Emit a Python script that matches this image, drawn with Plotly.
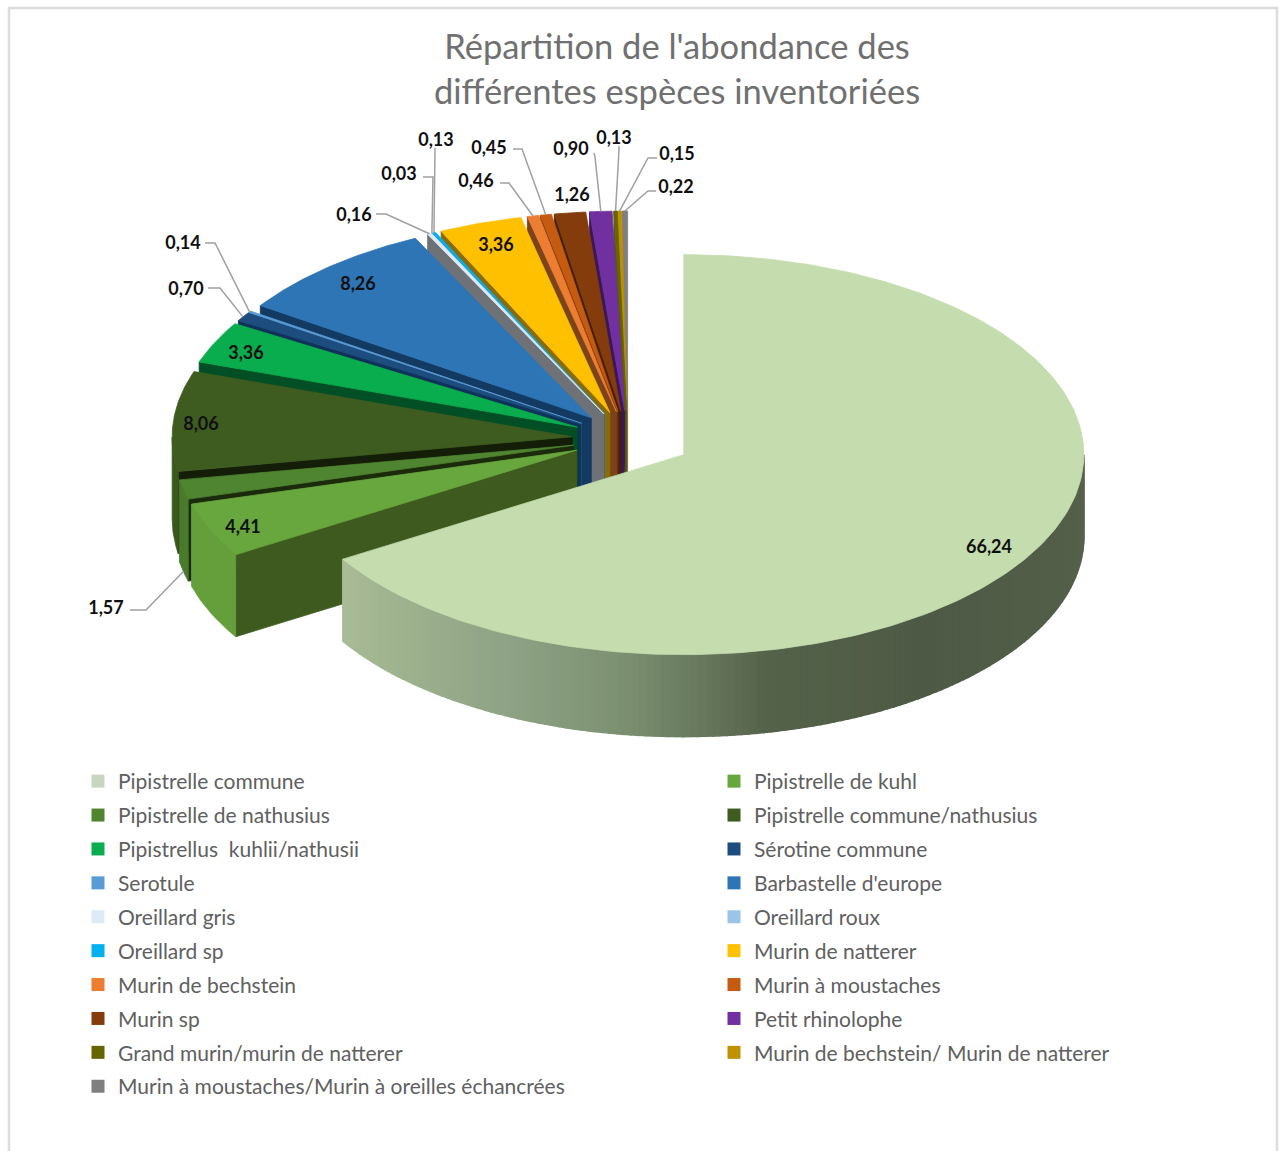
import math
import plotly.graph_objects as go

# ---------- data ----------
SPECIES = ["Pipistrelle commune", "Pipistrelle de kuhl", "Pipistrelle de nathusius",
           "Pipistrelle commune/nathusius", "Pipistrellus  kuhlii/nathusii", "Sérotine commune",
           "Serotule", "Barbastelle d'europe", "Oreillard gris", "Oreillard roux", "Oreillard sp",
           "Murin de natterer", "Murin de bechstein", "Murin à moustaches", "Murin sp",
           "Petit rhinolophe", "Grand murin/murin de natterer", "Murin de bechstein/ Murin de natterer",
           "Murin à moustaches/Murin à oreilles échancrées"]
VALUES = [66.24, 4.41, 1.57, 8.06, 3.36, 0.70, 0.14, 8.26, 0.16, 0.03, 0.13,
          3.36, 0.46, 0.45, 1.26, 0.90, 0.13, 0.15, 0.22]
TITLE = "Répartition de l'abondance des<br>différentes espèces inventoriées"

# ---------- styles ----------
TOP = ["#c4dcae", "#68a63e", "#4f8530", "#3f5c20", "#0aad4e", "#1d4d7f", "#5b9bd5", "#2e75b6",
       "#deebf7", "#9dc3e6", "#00b0f0", "#ffc000", "#ed7d31", "#c55a11", "#843c0c", "#7030a0",
       "#666600", "#bf9000", "#7f7f7f"]
CUT = ["#6c7a60", "#3f5a1e", "#1c2a0c", "#141d08", "#024f25", "#0f3358", "#2a4f72", "#123a63",
       "#6e7276", "#5a7590", "#0a6c90", "#8a6b05", "#7a431a", "#6e340c", "#43200a", "#3a1758",
       "#5a5a05", "#8f6d05", "#6a6a6a"]
RIM = ["#8a9a7a", "#659f3c", "#4a7a2b", "#3a5a1d", "#0a8f42", "#173f69", "#3f78aa", "#245f96",
       "#b5c2cc", "#7a9ab8", "#0a8ec0", "#c09000", "#c26428", "#a04a0e", "#6a300a", "#5a2680",
       "#666600", "#9a7400", "#666666"]
WALL_STOPS = [(90, "#56624c"), (107, "#545f4a"), (144, "#4e5a45"), (168, "#55624a"),
              (188, "#7b8f70"), (206, "#8ea385"), (225, "#9fb28e"), (238.6, "#a9bb97")]
TEXT_GREY = "#606060"

# ---------- layout geometry (pixels of the page) ----------
W, H = 1281, 1151
CX, CY = 628, 437          # pie centre before explosion
RX, RY = 400, 200          # ellipse of the pie
DEPTH = 82
EXPLODE = 0.14
EXPLODE_MAIN = 0.16
LABEL_DY = 2

# centre of label, then optional leader (start, elbow)
LABELS = [
    ((989, 546), None), ((243, 526), None),
    ((106, 607), ((130, 610), (146, 610))),
    ((201, 423), None), ((246, 352), None),
    ((186, 288), ((208, 288), (220, 288))),
    ((183, 242), ((205, 243), (215, 243))),
    ((358, 283), None),
    ((354, 214), ((376, 214), (386, 214))),
    ((399, 173), ((423, 177), (433, 177))),
    ((436, 139), ((435, 148), (435, 150))),
    ((496, 244), None),
    ((476, 180), ((500, 183), (509, 183))),
    ((489, 147), ((513, 149), (522, 149))),
    ((572, 194), None),
    ((571, 148), ((594, 153), (595, 157))),
    ((614, 137), ((619, 146), (619, 150))),
    ((677, 153), ((657, 158), (648, 158))),
    ((676, 186), ((656, 191), (648, 191))),
]


def mix(a, b, t):
    ca = [int(a[i:i + 2], 16) for i in (1, 3, 5)]
    cb = [int(b[i:i + 2], 16) for i in (1, 3, 5)]
    return "#%02x%02x%02x" % tuple(round(p + (q - p) * t) for p, q in zip(ca, cb))


def wall_color(deg):
    for (a0, c0), (a1, c1) in zip(WALL_STOPS, WALL_STOPS[1:]):
        if deg <= a1:
            return mix(c0, c1, (deg - a0) / (a1 - a0))
    return WALL_STOPS[-1][1]


def rim(deg):
    r = math.radians(deg)
    return RX * math.sin(r), -RY * math.cos(r)


total = sum(VALUES)
starts, ends = [], []
acc = 0.0
for v in VALUES:
    starts.append(acc / total * 360)
    acc += v
    ends.append(acc / total * 360)


def apex(i):
    dx, dy = rim((starts[i] + ends[i]) / 2)
    e = EXPLODE_MAIN if i == 0 else EXPLODE
    return CX + e * dx, CY + 2 + e * dy


def arc(i, a0, a1, n):
    ax, ay = apex(i)
    pts = []
    for k in range(n + 1):
        px, py = rim(a0 + (a1 - a0) * k / n)
        pts.append((ax + px, ay + py))
    return pts


fig = go.Figure()


def poly(pts, color, group, name, lw=0.8):
    fig.add_trace(go.Scatter(
        x=[p[0] for p in pts] + [pts[0][0]], y=[p[1] for p in pts] + [pts[0][1]],
        mode="lines", fill="toself", fillcolor=color,
        line=dict(color=color, width=lw), showlegend=False, legendgroup=group,
        name=name, hoverinfo="skip"))


# legend entries, row by row over two columns
for i, name in enumerate(SPECIES):
    fig.add_trace(go.Scatter(
        x=[None], y=[None], mode="markers", name=name, legendgroup=name,
        legend="legend" if i % 2 == 0 else "legend2",
        marker=dict(symbol="square", size=13, color=TOP[i] if i else "#c9d6bf")))

# back slices first, front slices last, the big slice on top
for i in range(len(VALUES) - 1, 0, -1):
    nm = SPECIES[i]
    ax, ay = apex(i)
    a0, a1 = starts[i], ends[i]
    outer = arc(i, a0, a1, max(3, int((a1 - a0) * 2)))
    sx, sy = outer[0]
    poly([(ax, ay), (sx, sy), (sx, sy + DEPTH), (ax, ay + DEPTH)], CUT[i], nm, nm)
    if a0 < 270:
        front = arc(i, a0, min(a1, 270), 24)
        poly(front + [(x, y + DEPTH) for x, y in reversed(front)], RIM[i], nm, nm)
    poly([(ax, ay)] + outer, TOP[i], nm, nm)

N_STRIPS = 140
for k in range(N_STRIPS):
    d0 = 90 + (ends[0] - 90) * k / N_STRIPS
    d1 = 90 + (ends[0] - 90) * (k + 1) / N_STRIPS
    strip = arc(0, d0, d1, 2)
    poly(strip + [(x, y + DEPTH) for x, y in reversed(strip)],
         wall_color((d0 + d1) / 2), SPECIES[0], SPECIES[0], lw=1.5)
poly([apex(0)] + arc(0, 0, ends[0], 240), TOP[0], SPECIES[0], SPECIES[0])

# leaders
for i, (_, leader) in enumerate(LABELS):
    if leader is None:
        continue
    mx, my = arc(i, (starts[i] + ends[i]) / 2, (starts[i] + ends[i]) / 2, 1)[0]
    if 90 < (starts[i] + ends[i]) / 2 < 270:
        my += DEPTH
    fig.add_trace(go.Scatter(
        x=[leader[0][0], leader[1][0], mx], y=[leader[0][1], leader[1][1], my],
        mode="lines", line=dict(color="#a0a0a0", width=1.5),
        showlegend=False, legendgroup=SPECIES[i], hoverinfo="skip"))

# value labels
fig.add_trace(go.Scatter(
    x=[p[0][0] for p in LABELS], y=[p[0][1] + LABEL_DY for p in LABELS],
    text=[f"{v:.2f}".replace(".", ",") for v in VALUES],
    mode="text", textposition="middle center",
    textfont=dict(family="Lato", size=18, color="#101010", weight="bold"),
    showlegend=False, hoverinfo="skip"))

common_legend = dict(
    orientation="v", bgcolor="rgba(0,0,0,0)", yanchor="top", xanchor="left",
    font=dict(family="Lato", size=21, color=TEXT_GREY), tracegroupgap=3.6,
    itemclick=False, itemdoubleclick=False)

fig.update_layout(
    width=W, height=H, autosize=False, margin=dict(l=0, r=0, t=0, b=0),
    paper_bgcolor="white", plot_bgcolor="white",
    xaxis=dict(range=[0, W], visible=False, fixedrange=True),
    yaxis=dict(range=[H, 0], visible=False, fixedrange=True),
    title=dict(text=TITLE, x=677 / W, xanchor="center", y=1 - 59 / H, yanchor="top",
               yref="container", font=dict(family="Lato", size=34.5, color="#707070")),
    showlegend=True,
    legend=dict(x=78 / W, y=1 - 761 / H, **common_legend),
    legend2=dict(x=714 / W, y=1 - 761 / H, **common_legend),
    shapes=[dict(type="rect", xref="x", yref="y", x0=9, x1=1277, y0=8, y1=1175,
                 line=dict(color="#dcdcdc", width=2.5), layer="below")],
)

fig.write_html("out.html", config=dict(displayModeBar=False), post_script=(
    "document.body.style.margin='0';document.body.style.overflow='hidden';"))
